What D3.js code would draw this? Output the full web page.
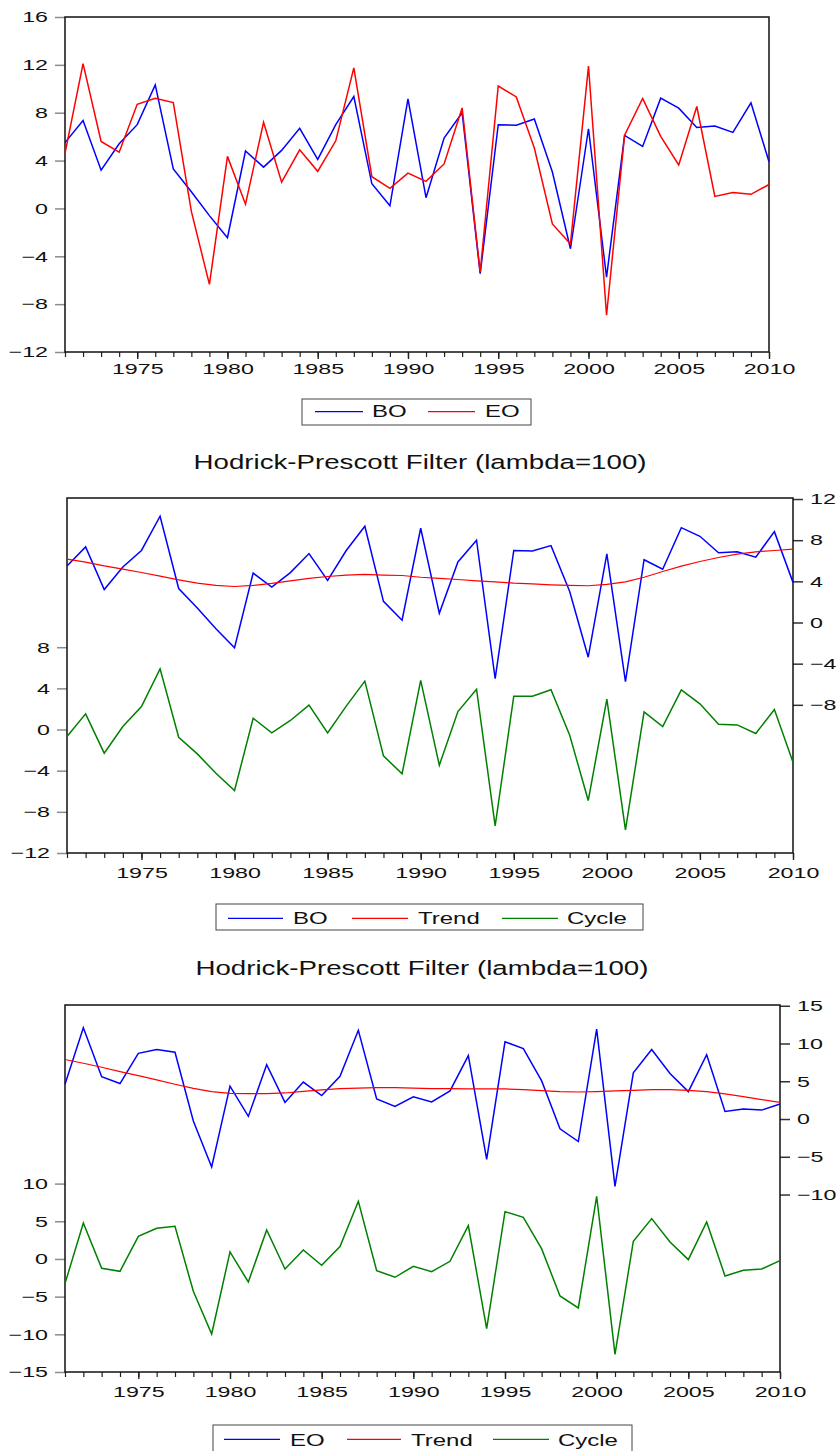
<!DOCTYPE html>
<html>
<head>
<meta charset="utf-8">
<script src="https://cdn.jsdelivr.net/npm/d3@7"></script>
<style>
  body { margin: 0; background: #fff; }
  svg { display: block; font-family: "Liberation Sans", Arial, sans-serif; }
</style>
</head>
<body>
<svg id="chart" width="836" height="1451"></svg>
<script>
// values
const years = [1971, 1972, 1973, 1974, 1975, 1976, 1977, 1978, 1979, 1980,
  1981, 1982, 1983, 1984, 1985, 1986, 1987, 1988, 1989, 1990,
  1991, 1992, 1993, 1994, 1995, 1996, 1997, 1998, 1999, 2000,
  2001, 2002, 2003, 2004, 2005, 2006, 2007, 2008, 2009, 2010];
const yearLabels = [1975, 1980, 1985, 1990, 1995, 2000, 2005, 2010];

const boValues = [5.5, 7.35, 3.2, 5.4, 7.0, 10.33, 3.3, 1.4, -0.6, -2.45,
  4.8, 3.45, 4.85, 6.7, 4.1, 7.0, 9.35, 2.06, 0.22, 9.16,
  0.9, 5.88, 8.0, -5.46, 7.0, 6.96, 7.47, 3.04, -3.37, 6.66,
  -5.74, 6.1, 5.18, 9.22, 8.38, 6.77, 6.88, 6.35, 8.83, 3.9];
const eoValues = [4.6, 12.1, 5.6, 4.7, 8.7, 9.2, 8.85, -0.25, -6.35, 4.35,
  0.35, 7.2, 2.2, 4.9, 3.1, 5.65, 11.75, 2.65, 1.68, 2.95,
  2.26, 3.72, 8.4, -5.33, 10.23, 9.32, 5.05, -1.3, -2.98, 11.9,
  -8.93, 6.12, 9.2, 6.03, 3.63, 8.52, 1.0, 1.33, 1.18, 2.0];

const boTrend = [6.16, 5.87, 5.5, 5.19, 4.86, 4.5, 4.15, 3.83, 3.6, 3.5,
  3.6, 3.8, 4.05, 4.28, 4.47, 4.6, 4.67, 4.6, 4.57, 4.4,
  4.28, 4.18, 4.05, 3.95, 3.83, 3.76, 3.66, 3.6, 3.57, 3.7,
  3.95, 4.4, 4.96, 5.48, 5.93, 6.32, 6.65, 6.87, 7.0, 7.13];
const boCycle = [-0.68, 1.52, -2.3, 0.29, 2.24, 5.9, -0.75, -2.37, -4.25, -5.93,
  1.1, -0.32, 0.88, 2.37, -0.32, 2.27, 4.7, -2.56, -4.31, 4.77,
  -3.47, 1.75, 3.92, -9.37, 3.24, 3.24, 3.86, -0.52, -6.9, 2.95,
  -9.76, 1.72, 0.29, 3.86, 2.5, 0.52, 0.45, -0.39, 1.95, -3.18];

const eoTrend = [7.88, 7.39, 6.86, 6.28, 5.75, 5.18, 4.6, 4.07, 3.63, 3.4,
  3.36, 3.36, 3.45, 3.67, 3.85, 4.03, 4.1, 4.15, 4.15, 4.1,
  4.03, 4.03, 3.98, 3.98, 3.98, 3.9, 3.76, 3.63, 3.58, 3.63,
  3.72, 3.8, 3.9, 3.9, 3.8, 3.63, 3.32, 2.96, 2.57, 2.2];
const eoCycle = [-3.27, 4.78, -1.24, -1.64, 3.0, 4.07, 4.34, -4.29, -9.96, 0.93,
  -3.05, 3.85, -1.33, 1.2, -0.84, 1.64, 7.65, -1.55, -2.43, -0.97,
  -1.68, -0.31, 4.42, -9.25, 6.28, 5.53, 1.33, -4.91, -6.5, 8.32,
  -12.65, 2.35, 5.35, 2.26, -0.09, 4.91, -2.26, -1.5, -1.33, -0.22];

const titleText = "Hodrick-Prescott Filter (lambda=100)";

const BLUE = "#0000ff", RED = "#ff0000", GREEN = "#008000";

const svg = d3.select("#chart");

// the reference is stretched sideways, so text is too
function stretchText(sel, sx) {
  sel.each(function () {
    let t = d3.select(this);
    let x = +t.attr("x") || 0;
    t.attr("x", x / sx).attr("transform", `scale(${sx},1)`);
  });
}

function drawPanel(p) {
  let g = svg.append("g");

  let x = d3.scaleLinear().domain([1971, 2010]).range([p.x0, p.x1]);
  let yLeft = d3.scaleLinear().domain(p.leftDomain).range([p.y1, p.y0]);
  let yRight = p.rightDomain
    ? d3.scaleLinear().domain(p.rightDomain).range([p.y1, p.y0])
    : null;

  // left axis
  let la = g.append("g")
    .attr("transform", `translate(${p.x0},0)`)
    .call(d3.axisLeft(yLeft).tickValues(p.leftTicks).tickSize(10).tickPadding(7).tickFormat(d3.format("d")));
  la.select(".domain").remove();
  la.selectAll("line").attr("stroke", "#8c8c8c").attr("stroke-width", 1.5);
  la.selectAll("text").attr("font-size", 15).attr("fill", "#111").attr("font-family", null);
  stretchText(la.selectAll("text"), 1.55);

  // right axis
  if (yRight) {
    let ra = g.append("g")
      .attr("transform", `translate(${p.x1},0)`)
      .call(d3.axisRight(yRight).tickValues(p.rightTicks).tickSize(10).tickPadding(7).tickFormat(d3.format("d")));
    ra.select(".domain").remove();
    ra.selectAll("line").attr("stroke", "#333").attr("stroke-width", 1.5);
    ra.selectAll("text").attr("font-size", 15).attr("fill", "#111").attr("font-family", null);
    stretchText(ra.selectAll("text"), 1.55);
  }

  // bottom axis: every year small, every 5 years labelled
  let minor = g.append("g")
    .attr("transform", `translate(0,${p.y1})`)
    .call(d3.axisBottom(x).tickValues(years).tickSize(5).tickFormat(""));
  minor.select(".domain").remove();
  minor.selectAll("line").attr("stroke", "#222").attr("stroke-width", 1.2);

  let major = g.append("g")
    .attr("transform", `translate(0,${p.y1})`)
    .call(d3.axisBottom(x).tickValues(yearLabels).tickSize(7).tickPadding(p.xPad).tickFormat(d3.format("d")));
  major.select(".domain").remove();
  major.selectAll("line").attr("stroke", "#222").attr("stroke-width", 1.4);
  major.selectAll("text").attr("font-size", 15).attr("fill", "#111").attr("font-family", null);
  stretchText(major.selectAll("text"), 1.55);

  // frame
  g.append("rect")
    .attr("x", p.x0).attr("y", p.y0)
    .attr("width", p.x1 - p.x0).attr("height", p.y1 - p.y0)
    .attr("fill", "none").attr("stroke", "#111").attr("stroke-width", 1.5);

  // lines
  p.series.forEach(s => {
    let yScale = s.axis === "right" ? yRight : yLeft;
    let line = d3.line()
      .x((d, i) => x(years[i]))
      .y(d => yScale(d));
    g.append("path")
      .datum(s.values)
      .attr("fill", "none")
      .attr("stroke", s.color)
      .attr("stroke-width", s.width)
      .attr("stroke-linejoin", "miter")
      .attr("d", line);
  });

  // legend
  let lg = svg.append("g");
  lg.append("rect")
    .attr("x", p.legend.x0).attr("y", p.legend.y0)
    .attr("width", p.legend.x1 - p.legend.x0).attr("height", p.legend.y1 - p.legend.y0)
    .attr("fill", "#fff").attr("stroke", "#444").attr("stroke-width", 1);
  p.series.forEach((s, i) => {
    let it = p.legend.items[i];
    lg.append("line")
      .attr("x1", it.lx0).attr("x2", it.lx1)
      .attr("y1", p.legend.ly).attr("y2", p.legend.ly)
      .attr("stroke", s.color).attr("stroke-width", 1.3);
    let t = lg.append("text")
      .attr("x", it.tx).attr("y", p.legend.ty)
      .attr("font-size", 16).attr("fill", "#111")
      .text(s.name);
    stretchText(t, 1.5);
  });
}

function drawTitle(cx, y) {
  let t = svg.append("text")
    .attr("x", cx).attr("y", y)
    .attr("text-anchor", "middle")
    .attr("font-size", 19.5).attr("fill", "#111")
    .text(titleText);
  stretchText(t, 1.42);
}

drawPanel({
  x0: 65, x1: 769, y0: 17, y1: 352, xPad: 4,
  leftDomain: [-12, 16], leftTicks: [-12, -8, -4, 0, 4, 8, 12, 16],
  series: [
    { name: "BO", values: boValues, color: BLUE, width: 1.5, axis: "left" },
    { name: "EO", values: eoValues, color: RED, width: 1.5, axis: "left" }
  ],
  legend: {
    x0: 302, x1: 531, y0: 399, y1: 425, ly: 411.7, ty: 417.3,
    items: [{ lx0: 315, lx1: 363, tx: 372 }, { lx0: 428, lx1: 475, tx: 485 }]
  }
});

drawTitle(420, 469);

drawPanel({
  x0: 67, x1: 793, y0: 498, y1: 853, xPad: 7,
  leftDomain: [-12, 22.5], leftTicks: [-12, -8, -4, 0, 4, 8],
  rightDomain: [-22.4, 12.1], rightTicks: [-8, -4, 0, 4, 8, 12],
  series: [
    { name: "BO", values: boValues, color: BLUE, width: 1.5, axis: "right" },
    { name: "Trend", values: boTrend, color: RED, width: 1.2, axis: "right" },
    { name: "Cycle", values: boCycle, color: GREEN, width: 1.5, axis: "left" }
  ],
  legend: {
    x0: 216, x1: 643, y0: 904, y1: 930, ly: 918.3, ty: 924,
    items: [{ lx0: 228, lx1: 283, tx: 293 }, { lx0: 352, lx1: 408, tx: 418 }, { lx0: 502, lx1: 558, tx: 567 }]
  }
});

drawTitle(422, 975);

drawPanel({
  x0: 65, x1: 780, y0: 1005, y1: 1372, xPad: 7,
  leftDomain: [-15, 33.7], leftTicks: [-15, -10, -5, 0, 5, 10],
  rightDomain: [-33.5, 15.1], rightTicks: [-10, -5, 0, 5, 10, 15],
  series: [
    { name: "EO", values: eoValues, color: BLUE, width: 1.5, axis: "right" },
    { name: "Trend", values: eoTrend, color: RED, width: 1.2, axis: "right" },
    { name: "Cycle", values: eoCycle, color: GREEN, width: 1.5, axis: "left" }
  ],
  legend: {
    x0: 213, x1: 632, y0: 1425, y1: 1452, ly: 1439.3, ty: 1446,
    items: [{ lx0: 224, lx1: 280, tx: 290 }, { lx0: 347, lx1: 401, tx: 411 }, { lx0: 493, lx1: 549, tx: 558 }]
  }
});
</script>
</body>
</html>
